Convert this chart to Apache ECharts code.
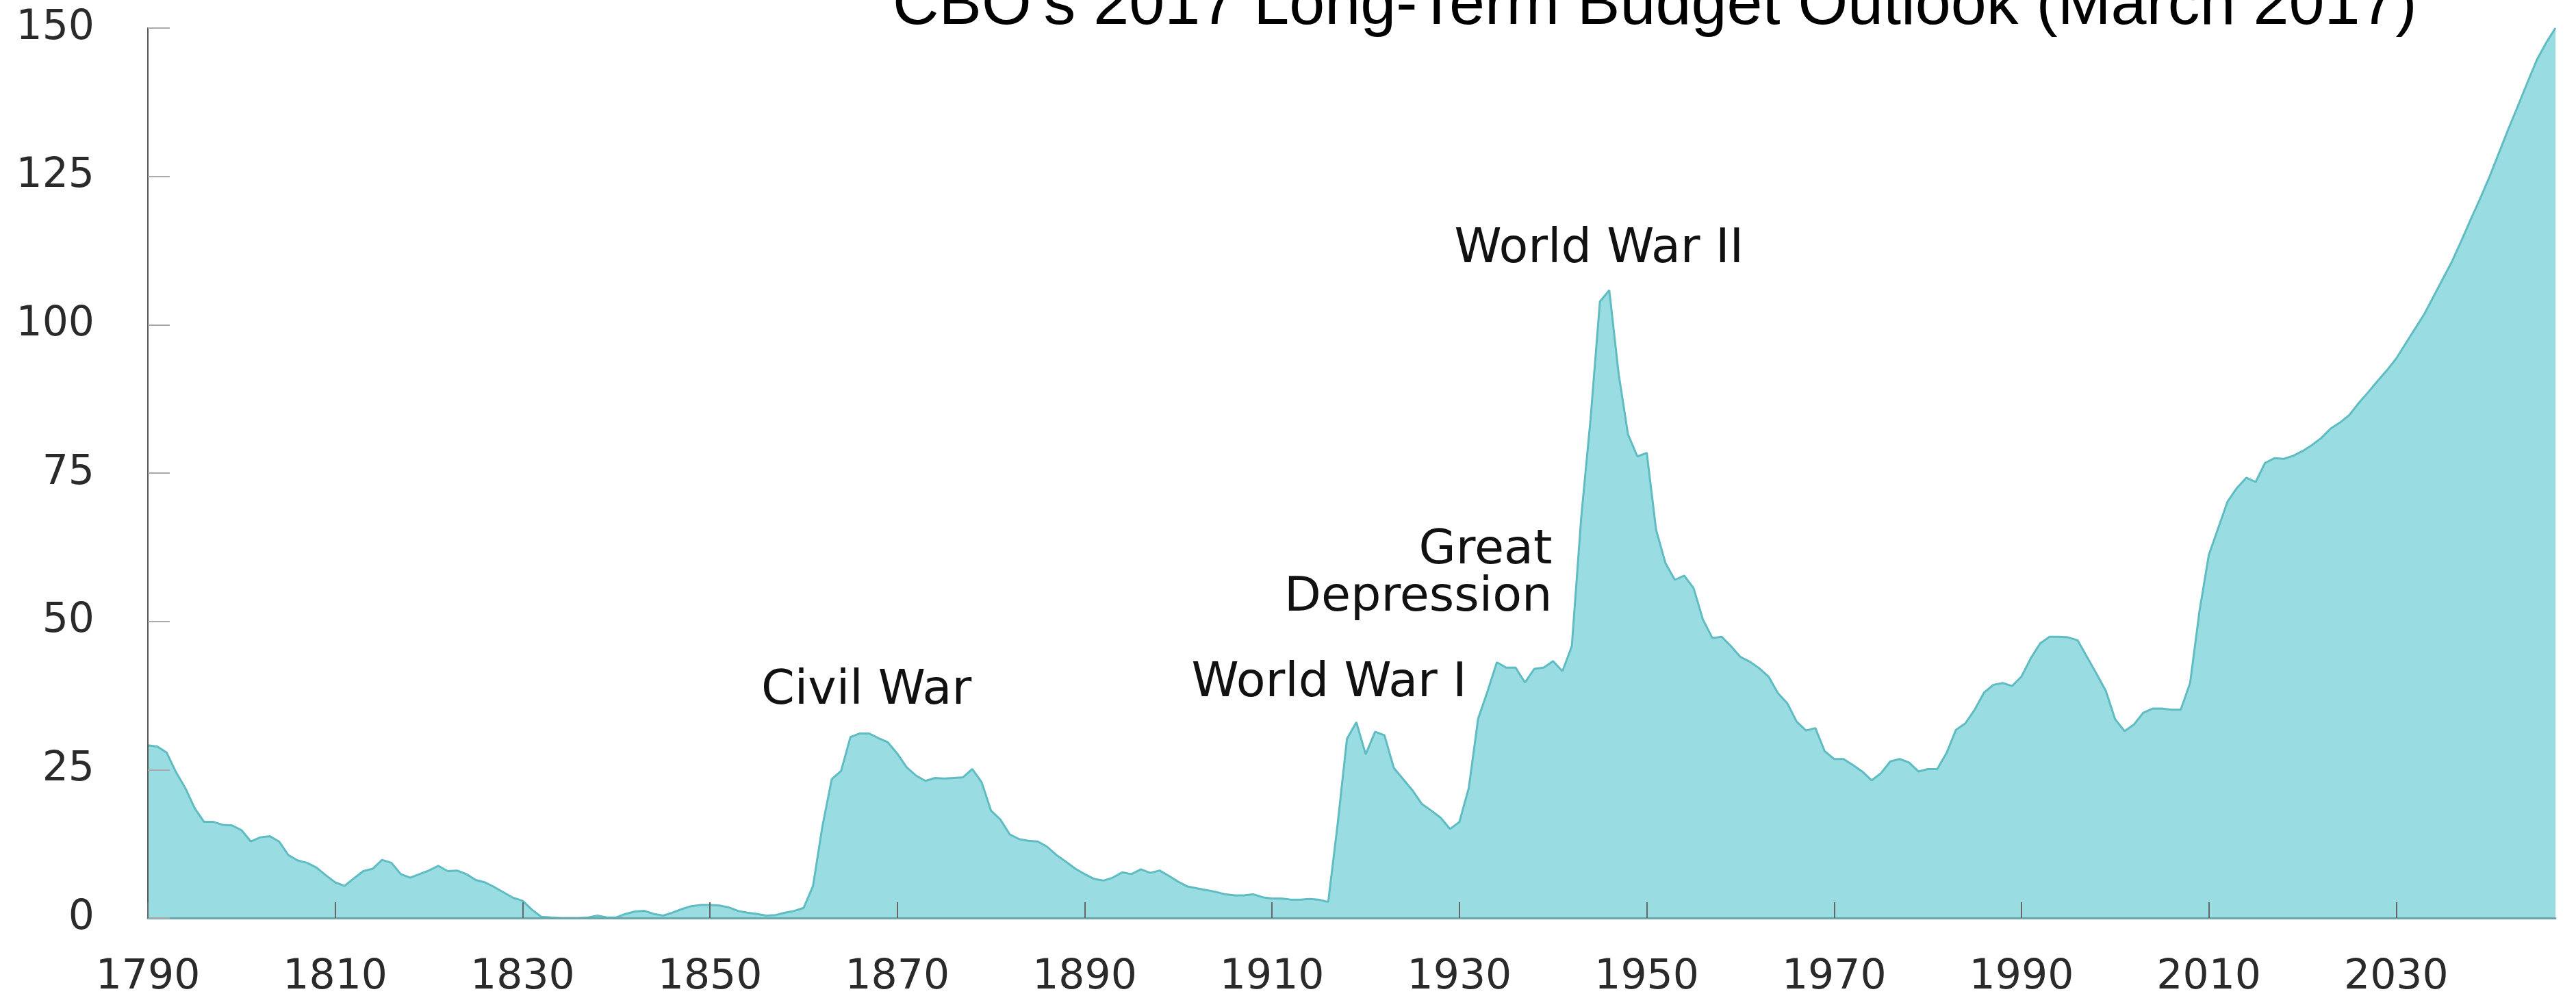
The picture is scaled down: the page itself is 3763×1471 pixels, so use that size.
<!DOCTYPE html>
<html><head><meta charset="utf-8">
<script src="https://cdn.jsdelivr.net/npm/echarts@6/dist/echarts.min.js"></script>
<style>html,body{margin:0;padding:0;background:#fff}#c{width:3763px;height:1471px}</style>
</head><body><div id="c"></div>
<script>
const startYear = 1790;
// Federal debt held by the public, % of GDP
const historical1790to1839 = [29.1,28.9,27.9,24.6,21.9,18.5,16.2,16.2,15.7,15.6,
  14.8,12.9,13.6,13.8,12.9,10.6,9.7,9.3,8.5,7.2,
  6.0,5.4,6.7,7.9,8.3,9.8,9.3,7.4,6.8,7.4,
  8.0,8.8,7.9,8.0,7.4,6.4,6.0,5.2,4.3,3.4,
  2.9,1.4,0.2,0.1,0,0,0,0.1,0.4,0.1];
const historical1840to1889 = [0.1,0.7,1.1,1.2,0.7,0.4,0.9,1.5,2.0,2.2,
  2.2,2.1,1.8,1.2,0.9,0.7,0.4,0.5,0.9,1.2,
  1.7,5.4,15.4,23.4,24.8,30.5,31.1,31.1,30.3,29.6,
  27.7,25.4,24.0,23.1,23.6,23.5,23.6,23.7,25.1,22.9,
  18.1,16.6,14.1,13.3,13.0,12.9,12.0,10.6,9.5,8.3];
const historical1890to1939 = [7.4,6.6,6.3,6.8,7.7,7.4,8.2,7.6,8.0,7.1,
  6.1,5.3,5.0,4.7,4.4,4.0,3.8,3.8,4.0,3.5,
  3.3,3.3,3.1,3.1,3.2,3.1,2.7,15.8,30.2,33.0,
  27.6,31.4,30.8,25.3,23.4,21.5,19.2,18.1,16.9,15.0,
  16.2,21.9,33.6,38.2,43.1,42.2,42.2,39.7,42.0,42.2];
const historical1940to1989 = [43.3,41.6,45.8,67.4,84.1,103.9,105.8,91.7,81.5,77.8,
  78.4,65.4,59.8,57.0,57.7,55.6,50.3,47.2,47.4,45.8,
  44.0,43.2,42.1,40.7,37.9,36.2,33.1,31.6,32.0,28.1,
  26.8,26.8,25.8,24.7,23.2,24.4,26.4,26.8,26.2,24.7,
  25.1,25.1,27.8,31.7,32.8,35.1,38.0,39.3,39.6,39.1];
const historical1990to2016 = [40.7,43.8,46.3,47.4,47.4,47.3,46.8,44.0,41.2,38.3,
  33.5,31.5,32.6,34.6,35.3,35.3,35.1,35.1,39.6,51.7,
  61.2,65.7,70.2,72.5,74.2,73.5,76.7];
const projected2017to2047 = [77.5,77.4,77.9,78.7,79.7,80.9,82.5,83.5,84.8,86.8,
  88.6,90.5,92.3,94.3,96.8,99.3,101.8,104.8,107.8,110.8,
  114.3,117.9,121.4,125.1,129.1,133.1,136.9,140.8,144.6,147.5,
  150.0];

const xTickYears = [1790,1810,1830,1850,1870,1890,1910,1930,1950,1970,1990,2010,2030];
const yTickValues = [0,25,50,75,100,125,150];
const titleText = "CBO's 2017 Long-Term Budget Outlook (March 2017)";
const annotations = [
  {text: 'Civil War', year: 1866.7, value: 38.2, align: 'center'},
  {text: 'World War I', year: 1916.1, value: 39.5, align: 'center'},
  {text: 'Great\nDepression', year: 1939.9, value: 57.9, align: 'right'},
  {text: 'World War II', year: 1944.9, value: 112.6, align: 'center'}
];

const values = [].concat(historical1790to1839, historical1840to1889, historical1890to1939,
  historical1940to1989, historical1990to2016, projected2017to2047);
const seriesData = values.map((v, i) => [startYear + i, v]);
const endYear = startYear + values.length - 1;

const chart = echarts.init(document.getElementById('c'), null, {renderer: 'canvas'});
chart.setOption({
  animation: false,
  backgroundColor: '#ffffff',
  grid: {left: 216, right: 30, top: 41, bottom: 130, containLabel: false},
  xAxis: {
    type: 'value', min: startYear, max: endYear, interval: 20, z: 5,
    splitLine: {show: false},
    axisLine: {show: true, lineStyle: {color: '#6aa7ac', width: 3}},
    axisTick: {show: true, inside: true, length: 23, lineStyle: {color: '#666', width: 2}},
    axisLabel: {
      margin: 57, fontSize: 60, fontFamily: 'DejaVu Sans', color: '#2a2a2a',
      showMaxLabel: false, showMinLabel: true,
      formatter: v => xTickYears.includes(v) ? String(v) : ''
    }
  },
  yAxis: {
    type: 'value', min: yTickValues[0], max: yTickValues[yTickValues.length - 1], interval: 25, z: 5,
    splitLine: {show: false},
    axisLine: {show: true, lineStyle: {color: '#555', width: 2}},
    axisTick: {show: true, inside: true, length: 32, lineStyle: {color: '#aaa', width: 2}},
    axisLabel: {margin: 78, fontSize: 60, fontFamily: 'DejaVu Sans', color: '#2a2a2a'}
  },
  series: [{
    type: 'line', data: seriesData, showSymbol: false, symbol: 'none', z: 2,
    lineStyle: {color: '#5fbcc3', width: 3},
    areaStyle: {color: '#99dde2', opacity: 1}
  }]
});

const graphics = annotations.map(a => {
  const p = chart.convertToPixel({gridIndex: 0}, [a.year, a.value]);
  return {
    type: 'text', x: p[0], y: p[1], z: 10,
    style: {text: a.text, fill: '#111', fontSize: 70, fontFamily: 'DejaVu Sans',
      align: a.align, verticalAlign: 'middle', lineHeight: 69}
  };
});
graphics.push({
  type: 'text', x: 1304, y: 9, z: 10,
  style: {text: titleText, fill: '#000', fontSize: 93.5, fontFamily: 'Liberation Sans',
    align: 'left', verticalAlign: 'middle'}
});
chart.setOption({graphic: graphics});
</script>
</body></html>
